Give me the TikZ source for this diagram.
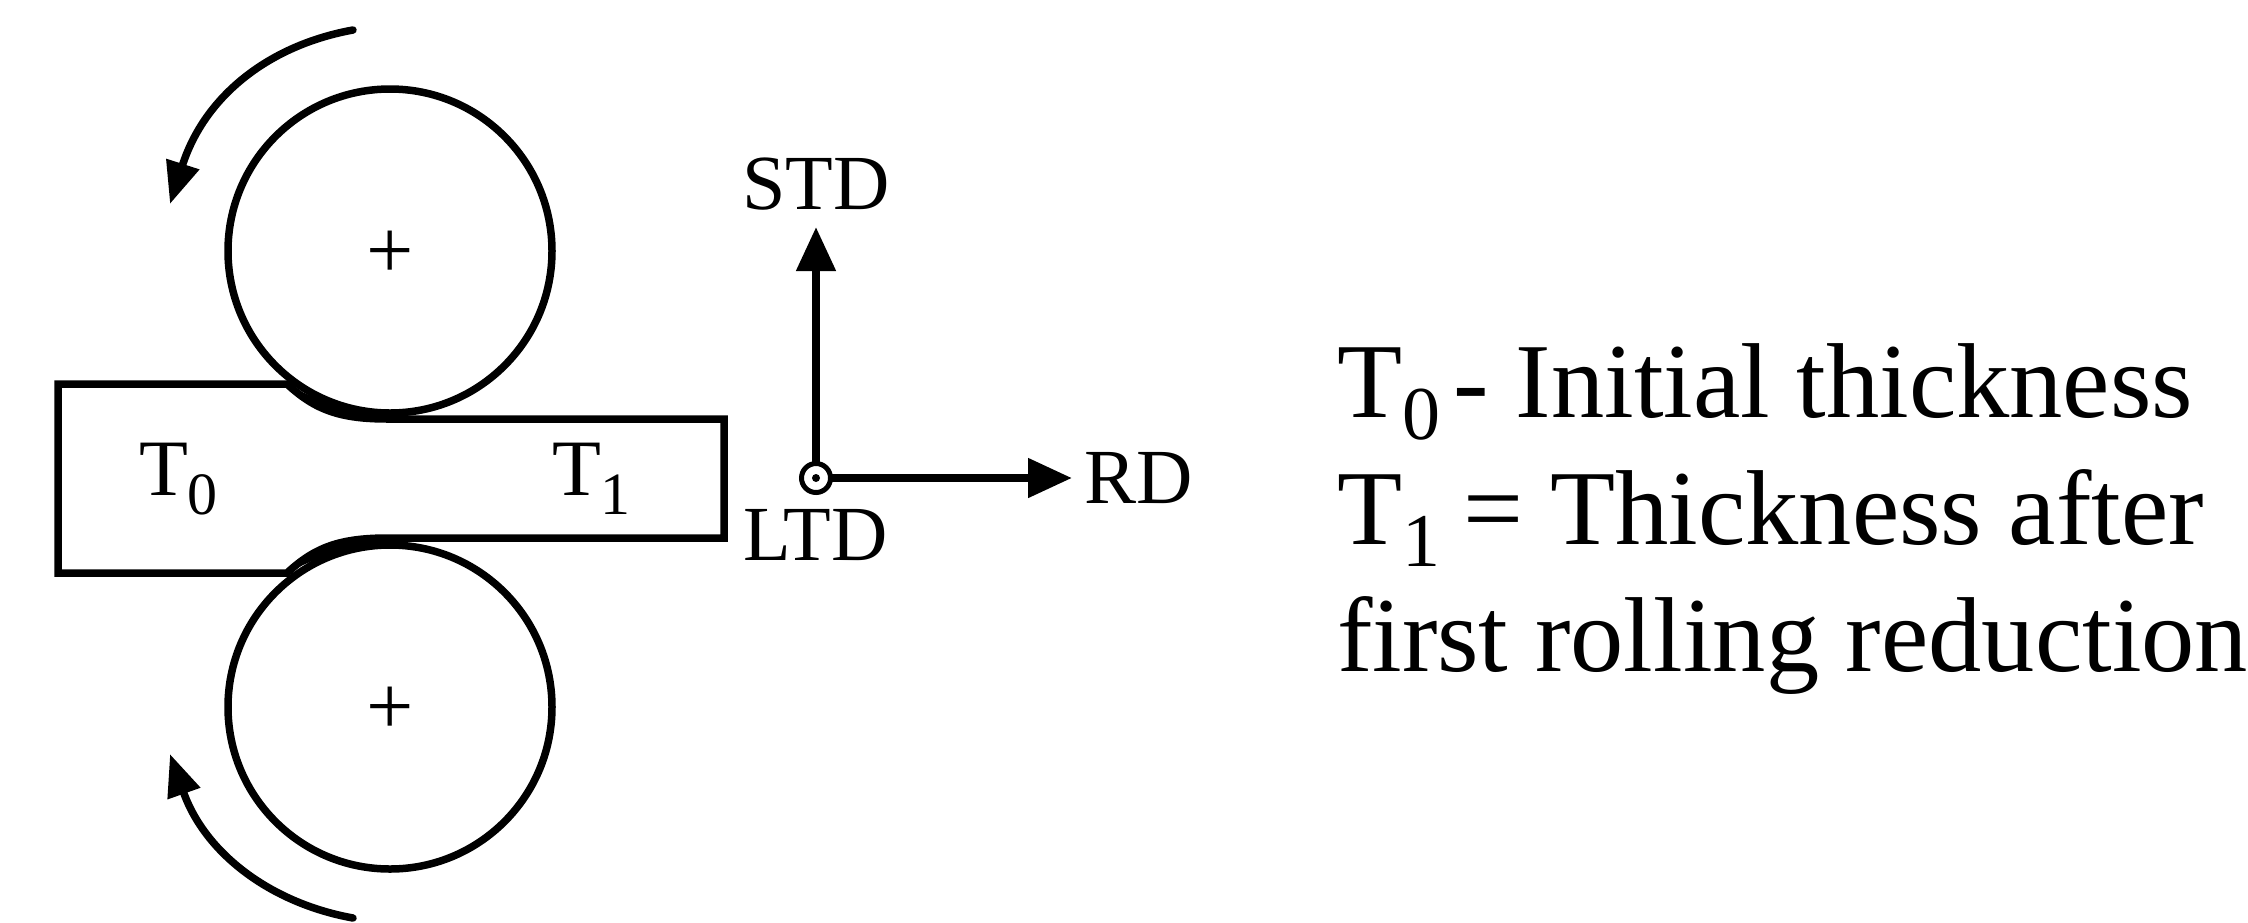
\documentclass[tikz,border=0pt]{standalone}
\usepackage{fontspec}
\setmainfont{Liberation Serif}
\usetikzlibrary{arrows.meta}
\newcommand{\lowsub}[3]{\raisebox{-#3pt}{\fontsize{#2pt}{#2pt}\selectfont #1}}
\tikzset{
  x=1pt,y=-1pt,
  roll/.style={circle,draw,line width=7.5pt,minimum size=324pt,inner sep=0pt,outer sep=0pt},
  sheet/.style={line width=7.5pt,line join=miter},
  axis/.style={line width=8pt,-{Triangle[length=44pt,width=38pt]}},
  turn/.style={line width=7.5pt,line cap=round,-{Triangle[length=42pt,width=33pt]}},
  lab/.style={anchor=base west,inner sep=0pt,outer sep=0pt,font=\fontsize{78pt}{78pt}\selectfont},
  tlab/.style={anchor=base west,inner sep=0pt,outer sep=0pt,font=\fontsize{80pt}{80pt}\selectfont},
  big/.style={anchor=base west,inner sep=0pt,outer sep=0pt,font=\fontsize{106.5pt}{110pt}\selectfont},
  plus/.style={inner sep=0pt,outer sep=0pt,font=\fontsize{84pt}{84pt}\selectfont},
}
\begin{document}
\begin{tikzpicture}
\useasboundingbox (0,0) rectangle (2248,922);
% sheet
\coordinate (s1) at (58,384);
\coordinate (s2) at (287,384);
\coordinate (s3) at (388,419);
\coordinate (s4) at (724,419);
\coordinate (s5) at (724,538);
\coordinate (s6) at (388,538);
\coordinate (s7) at (287,573);
\coordinate (s8) at (58,573);
\fill (s2) .. controls (315,410) and (340,419) .. (s3) -- (390,413) .. controls (350,413) and (315,400) .. (s2) -- cycle;
\fill (s7) .. controls (315,547) and (340,538) .. (s6) -- (390,545) .. controls (350,545) and (315,558) .. (s7) -- cycle;
\draw[sheet] (s1) -- (s2) .. controls (315,410) and (340,419) .. (s3) -- (s4) -- (s5) -- (s6)
  .. controls (340,538) and (315,547) .. (s7) -- (s8) -- cycle;
% rolls
\node[roll] (rolltop) at (390,251) {};
\node[roll] (rollbot) at (390,707) {};
\node[plus] (plustop) at (390,255) {+};
\node[plus] (plusbot) at (390,711) {+};
% rotation arrows
\coordinate (a1) at (353,30);
\coordinate (a2) at (170,204);
\coordinate (b1) at (353,918);
\coordinate (b2) at (170,754);
\draw[turn] (a1) .. controls (270,45) and (205,95) .. (a2);
\draw[turn] (b1) .. controls (270,903) and (205,853) .. (b2);
% axes
\coordinate (o) at (816,478);
\coordinate (up) at (816,227);
\coordinate (rt) at (1072,478);
\draw[axis] (o) -- (up);
\draw[axis] (o) -- (rt);
\node[circle,draw,fill=white,line width=5pt,minimum size=29pt,inner sep=0pt] (ltdmark) at (o) {};
\node[circle,fill=black,minimum size=8pt,inner sep=0pt] (ltddot) at (o) {};
% labels
\node[lab] (std) at (742,209) {STD};
\node[lab] (ltd) at (743,560) {LTD};
\node[lab] (rd) at (1084,503) {RD};
\node[tlab] (t0) at (139,495) {T\lowsub{0}{60}{19}};
\node[tlab] (t1) at (552,495) {T\lowsub{1}{60}{19}};
% legend
\node[big] (l1) at (1337,417) {T\lowsub{0}{76}{22}\kern-13pt\ - Initial thickness};
\node[big] (l2) at (1337,544) {T\lowsub{1}{76}{22}\kern-3pt\ = Thickness after};
\node[big] (l3) at (1337,671) {first rolling reduction};
\end{tikzpicture}
\end{document}
